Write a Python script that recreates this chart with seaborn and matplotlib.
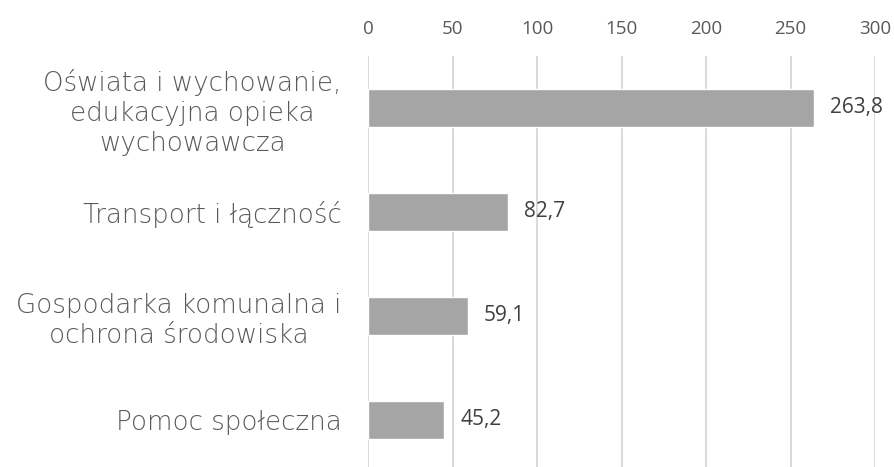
import matplotlib
matplotlib.use("Agg")
import matplotlib.pyplot as plt
import seaborn as sns
import pandas as pd

categories = [
    "Oświata i wychowanie,\nedukacyjna opieka\nwychowawcza",
    "Transport i łączność",
    "Gospodarka komunalna i\nochrona środowiska",
    "Pomoc społeczna",
]
values = [263.8, 82.7, 59.1, 45.2]
x_ticks = [0, 50, 100, 150, 200, 250, 300]

df = pd.DataFrame({"kategoria": categories, "wartosc": values})

sns.set_theme(style="white")
plt.rcParams["font.family"] = ["DejaVu Sans"]

fig = plt.figure(figsize=(8.95, 4.67), dpi=100)
ax = fig.add_axes([0.4112, -0.0107, 0.5665, 0.8908])

sns.barplot(data=df, x="wartosc", y="kategoria", orient="h",
            color="#a5a5a5", saturation=1, width=0.365, ax=ax, zorder=3)

ax.set_xlim(0, 300)
ax.set_xticks(x_ticks)
ax.xaxis.tick_top()
ax.tick_params(axis="x", length=0, pad=13, labelsize=13.5, labelcolor="#595959")
ax.tick_params(axis="y", length=0, pad=19, labelsize=18.8, labelcolor="#595959")
for lab in ax.get_xticklabels():
    lab.set_fontfamily(["Open Sans", "DejaVu Sans"])
for lab in ax.get_yticklabels():
    lab.set_multialignment("center")
    lab.set_fontweight("light")
    lab.set_linespacing(1.25)

ax.set_xlabel("")
ax.set_ylabel("")
for s in ax.spines.values():
    s.set_visible(False)
ax.grid(axis="x", color="#d9d9d9", linewidth=1.4, zorder=0)
ax.grid(axis="y", visible=False)

for i, v in enumerate(values):
    ax.annotate(f"{v:.1f}".replace(".", ","), xy=(v, i), xytext=(11.5, 0),
                textcoords="offset points", va="center", ha="left",
                fontsize=15, color="#404040",
                fontfamily=["Open Sans", "DejaVu Sans"])

fig.savefig("out.png", dpi=100)
